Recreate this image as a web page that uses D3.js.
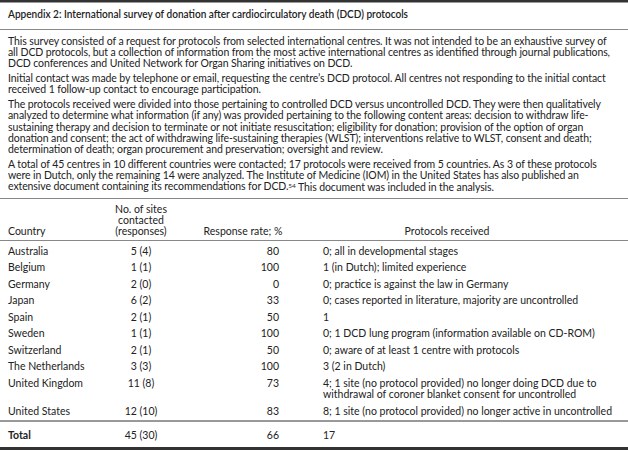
<!DOCTYPE html>
<html><head><meta charset="utf-8">
<script src="https://cdn.jsdelivr.net/npm/d3@7"></script>
<style>
html,body{margin:0;padding:0;background:#fff;}
svg text{font-family:Lato,"Open Sans",sans-serif;fill:#222;}
</style></head><body>
<script>
const title = "Appendix 2: International survey of donation after cardiocirculatory death (DCD) protocols";
const paragraphs = [
 ["This survey consisted of a request for protocols from selected international centres. It was not intended to be an exhaustive survey of",
  "all DCD protocols, but a collection of information from the most active international centres as identified through journal publications,",
  "DCD conferences and United Network for Organ Sharing initiatives on DCD."],
 ["Initial contact was made by telephone or email, requesting the centre\u2019s DCD protocol. All centres not responding to the initial contact",
  "received 1 follow-up contact to encourage participation."],
 ["The protocols received were divided into those pertaining to controlled DCD versus uncontrolled DCD. They were then qualitatively",
  "analyzed to determine what information (if any) was provided pertaining to the following content areas: decision to withdraw life-",
  "sustaining therapy and decision to terminate or not initiate resuscitation; eligibility for donation; provision of the option of organ",
  "donation and consent; the act of withdrawing life-sustaining therapies (WLST); interventions relative to WLST, consent and death;",
  "determination of death; organ procurement and preservation; oversight and review."],
 ["A total of 45 centres in 10 different countries were contacted; 17 protocols were received from 5 countries. As 3 of these protocols",
  "were in Dutch, only the remaining 14 were analyzed. The Institute of Medicine (IOM) in the United States has also published an",
  "extensive document containing its recommendations for DCD.|54| This document was included in the analysis."]
];
const headers = ["Country", ["No. of sites","contacted","(responses)"], "Response rate; %", "Protocols received"];
const countries = ["Australia","Belgium","Germany","Japan","Spain","Sweden","Switzerland","The Netherlands","United Kingdom","United States"];
const sitesContacted = [5,1,2,6,2,1,2,3,11,12];
const sitesResponded = [4,1,0,2,1,1,1,3,8,10];
const responseRate = [80,100,0,33,50,100,50,100,73,83];
const protocols = [
 ["0; all in developmental stages"],
 ["1 (in Dutch); limited experience"],
 ["0; practice is against the law in Germany"],
 ["0; cases reported in literature, majority are uncontrolled"],
 ["1"],
 ["0; 1 DCD lung program (information available on CD-ROM)"],
 ["0; aware of at least 1 centre with protocols"],
 ["3 (2 in Dutch)"],
 ["4; 1 site (no protocol provided) no longer doing DCD due to","withdrawal of coroner blanket consent for uncontrolled"],
 ["8; 1 site (no protocol provided) no longer active in uncontrolled"]
];
const total = {label:"Total", contacted:45, responded:30, rate:66, protocols:"17"};

const W=628,H=450;
const svg=d3.select("body").append("svg").attr("width",W).attr("height",H);
const fs=10.5;

// rules
svg.append("rect").attr("x",0).attr("y",0).attr("width",W).attr("height",2.5).attr("fill","#333");
const rule=(y,c,w)=>svg.append("line").attr("x1",0).attr("x2",W).attr("y1",y).attr("y2",y).attr("stroke",c).attr("stroke-width",w);
rule(29.5,"#888",1);
rule(198.5,"#888",1);
rule(240.5,"#888",1);
rule(421,"#777",1.6);
svg.append("rect").attr("x",0).attr("y",447).attr("width",W).attr("height",3).attr("fill","#333");

const tt=svg.append("text").attr("x",8).attr("y",14).attr("dy","0.35em").attr("font-size",10.5).attr("font-weight",600).text(title);
const tw=tt.node().getComputedTextLength();
if(tw>400) tt.attr("textLength",400).attr("lengthAdjust","spacingAndGlyphs");

// paragraphs
const lineH=11.3, paraGap=3.4;
let y=41;
const lines=[];
paragraphs.forEach(p=>{
  p.forEach(l=>{
    const t=svg.append("text").attr("x",8).attr("y",y).attr("dy","0.35em").attr("font-size",fs);
    const parts=l.split("|");
    parts.forEach((s,i)=>{
      const ts=t.append("tspan").text(s);
      if(i===1){ts.attr("font-size",6.5).attr("dy","-0.45em");}
      if(i===2){ts.attr("dy","0.3em");}
    });
    lines.push(t);
    y+=lineH;
  });
  y+=paraGap;
});
// stretch lines slightly so the longest line spans as in the reference
const maxW=d3.max(lines,t=>t.node().getComputedTextLength());
const k=Math.min(1.06,602/maxW);
lines.forEach(t=>{const w=t.node().getComputedTextLength(); t.attr("textLength",w*k).attr("lengthAdjust","spacing");});

// columns
const colX={country:8, sites:141, rate:279, prot:323};
const hdrY=231;
const T=(sel)=>sel.attr("dy","0.35em").attr("font-size",fs);
T(svg.append("text").attr("x",colX.country).attr("y",hdrY)).text(headers[0]);
headers[1].forEach((h,i)=>T(svg.append("text").attr("x",colX.sites).attr("y",hdrY-(2-i)*11).attr("text-anchor","middle")).text(h));
T(svg.append("text").attr("x",243).attr("y",hdrY).attr("text-anchor","middle")).text(headers[2]);
T(svg.append("text").attr("x",447).attr("y",hdrY).attr("text-anchor","middle")).text(headers[3]);

// row positions via cumulative line units
const rowH=16.5, extraLine=11.5;
const rows=countries.map((c,i)=>({country:c,contacted:sitesContacted[i],responded:sitesResponded[i],rate:responseRate[i],prot:protocols[i]}));
let cum=0;
rows.forEach(r=>{r.offset=cum; cum+=rowH+(r.prot.length-1)*extraLine;});
const yScale=d3.scaleLinear().domain([0,1]).range([251,252]);
const g=svg.selectAll("g.row").data(rows).join("g").attr("class","row").attr("transform",d=>`translate(0,${yScale(d.offset)})`);
T(g.append("text").attr("x",colX.country)).text(d=>d.country);
T(g.append("text").attr("x",colX.sites).attr("text-anchor","middle")).text(d=>`${d.contacted} (${d.responded})`);
T(g.append("text").attr("x",colX.rate).attr("text-anchor","end")).text(d=>d.rate);
g.each(function(d){
  T(d3.select(this).selectAll("text.p").data(d.prot).join("text").attr("class","p").attr("x",colX.prot).attr("y",(s,i)=>i*extraLine)).text(s=>s);
});
// total
const ty=435;
T(svg.append("text").attr("x",colX.country).attr("y",ty)).attr("font-weight",700).text(total.label);
T(svg.append("text").attr("x",colX.sites).attr("y",ty).attr("text-anchor","middle")).text(`${total.contacted} (${total.responded})`);
T(svg.append("text").attr("x",colX.rate).attr("y",ty).attr("text-anchor","end")).text(total.rate);
T(svg.append("text").attr("x",colX.prot).attr("y",ty)).text(total.protocols);
</script></body></html>
